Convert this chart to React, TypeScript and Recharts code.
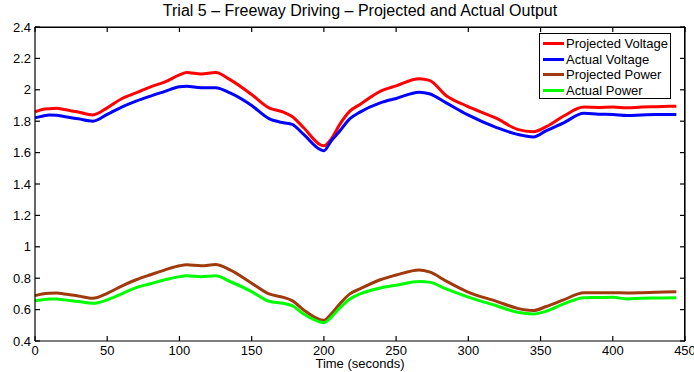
import { LineChart, Line, XAxis, YAxis, Legend, ReferenceLine } from 'recharts'

// sample times (s) and the four measured traces
const times = [
  0, 5, 10, 15, 20, 30, 40, 50, 60, 70, 80, 90, 100, 105, 115, 125, 135, 150,
  162, 172, 178, 186, 198, 200, 205, 211, 218, 225, 239, 250, 266, 273, 285,
  299, 320, 334, 345, 354, 366, 380, 390, 400, 410, 420, 430, 444,
]

const projectedVoltage = [
  1.86, 1.875, 1.88, 1.882, 1.875, 1.858, 1.84, 1.885, 1.943, 1.98, 2.019, 2.05, 2.095, 2.11, 2.1, 2.11, 2.065, 1.97,
  1.885, 1.858, 1.83, 1.758, 1.648, 1.643, 1.685, 1.78, 1.864, 1.907, 1.99, 2.025, 2.07, 2.06, 1.96,
  1.896, 1.816, 1.748, 1.733, 1.765, 1.833, 1.89, 1.888, 1.89, 1.885, 1.89, 1.892, 1.896,
]

const actualVoltage = [
  1.822, 1.832, 1.839, 1.838, 1.83, 1.815, 1.8, 1.843, 1.89, 1.928, 1.96, 1.99, 2.02, 2.023, 2.013, 2.013, 1.98, 1.9,
  1.816, 1.79, 1.78, 1.716, 1.617, 1.612, 1.674, 1.737, 1.816, 1.858, 1.917, 1.945, 1.985, 1.975, 1.915,
  1.843, 1.758, 1.716, 1.7, 1.74, 1.79, 1.85, 1.845, 1.843, 1.837, 1.84, 1.842, 1.843,
]

const projectedPower = [
  0.689, 0.7, 0.704, 0.705, 0.7, 0.687, 0.672, 0.704, 0.75, 0.79, 0.822, 0.853, 0.879, 0.885, 0.879, 0.887, 0.853, 0.768,
  0.7, 0.678, 0.657, 0.598, 0.534, 0.532, 0.572, 0.636, 0.7, 0.732, 0.79, 0.82, 0.853, 0.84, 0.78,
  0.715, 0.651, 0.608, 0.594, 0.62, 0.662, 0.708, 0.708, 0.708, 0.706, 0.708, 0.711, 0.713,
]

const actualPower = [
  0.657, 0.663, 0.668, 0.668, 0.662, 0.652, 0.64, 0.662, 0.7, 0.74, 0.765, 0.79, 0.81, 0.815, 0.81, 0.815, 0.779, 0.715,
  0.653, 0.64, 0.625, 0.572, 0.52, 0.517, 0.551, 0.611, 0.668, 0.7, 0.738, 0.755, 0.779, 0.775, 0.73,
  0.683, 0.623, 0.583, 0.572, 0.59, 0.636, 0.676, 0.677, 0.678, 0.668, 0.673, 0.674, 0.676,
]

const xTicks = [0, 50, 100, 150, 200, 250, 300, 350, 400, 450]
const yTicks = [0.4, 0.6, 0.8, 1, 1.2, 1.4, 1.6, 1.8, 2, 2.2, 2.4]

const series = [
  { key: 'pv', name: 'Projected Voltage', color: '#ff0000' },
  { key: 'av', name: 'Actual Voltage', color: '#0000ff' },
  { key: 'pp', name: 'Projected Power', color: '#a03a0c' },
  { key: 'ap', name: 'Actual Power', color: '#00ff00' },
]

const data = times.map((t, i) => ({
  t,
  pv: projectedVoltage[i],
  av: actualVoltage[i],
  pp: projectedPower[i],
  ap: actualPower[i],
}))

const W = 694
const H = 372
const margin = { top: 27, right: 9, bottom: 0, left: 0 }
const yAxisWidth = 35
const xAxisHeight = 31
const plotTop = margin.top
const plotLeft = yAxisWidth
const plotRight = W - margin.right
const plotBottom = H - xAxisHeight
const TICK = 5

const font = '"Liberation Sans", Arial, sans-serif'
const ink = '#000'

// bottom tick label, plus the matching inward tick on the top edge of the box
function XTick({ x, y, payload }: any) {
  return (
    <g>
      <line x1={x} x2={x} y1={plotTop} y2={plotTop + TICK} stroke={ink} strokeWidth={1.2} />
      <text x={x} y={y} dy="0.71em" textAnchor="middle" fontSize={13} fontFamily={font} fill={ink}>
        {payload.value}
      </text>
    </g>
  )
}

// left tick label, plus the matching inward tick on the right edge of the box
function YTick({ x, y, payload }: any) {
  return (
    <g>
      <line x1={plotRight - TICK} x2={plotRight} y1={y} y2={y} stroke={ink} strokeWidth={1.2} />
      <text x={x} y={y} dy="0.355em" textAnchor="end" fontSize={13} fontFamily={font} fill={ink}>
        {String(+Number(payload.value).toFixed(1))}
      </text>
    </g>
  )
}

function LegendBox() {
  return (
    <div style={{
      width: 132, height: 66, boxSizing: 'border-box', border: `1px solid ${ink}`,
      background: '#fff', padding: '2px 0 0 3px', fontFamily: font, fontSize: 13, color: ink,
    }}>
      {series.map(s => (
        <div key={s.key} style={{ display: 'flex', alignItems: 'center', height: 15.5, lineHeight: '15.5px' }}>
          <span style={{ display: 'inline-block', width: 21, height: 3, background: s.color, marginRight: 2 }} />
          <span>{s.name}</span>
        </div>
      ))}
    </div>
  )
}

export default function App() {
  return (
    <div style={{ position: 'absolute', left: 0, top: 0, width: W, height: H, background: '#fff', fontFamily: font }}>
      <div style={{ position: 'absolute', left: 35, top: 2, width: 650, textAlign: 'center', fontSize: 16, lineHeight: '18px', color: ink }}>
        Trial 5 – Freeway Driving – Projected and Actual Output
      </div>
      <LineChart width={W} height={H} data={data} margin={margin}>
        <XAxis
          dataKey="t" type="number" domain={[0, 450]} ticks={xTicks} interval={0}
          height={xAxisHeight} tickSize={-TICK} tickMargin={10} tick={<XTick />}
          axisLine={{ stroke: ink, strokeWidth: 1.2 }} tickLine={{ stroke: ink, strokeWidth: 1.2 }}
        />
        <YAxis
          type="number" domain={[0.4, 2.4]} ticks={yTicks} interval={0} width={yAxisWidth}
          tickSize={-TICK} tickMargin={9} tick={<YTick />}
          axisLine={{ stroke: ink, strokeWidth: 1.2 }} tickLine={{ stroke: ink, strokeWidth: 1.2 }}
        />
        <ReferenceLine y={2.4} stroke={ink} strokeWidth={1.2} ifOverflow="visible" />
        <ReferenceLine x={450} stroke={ink} strokeWidth={1.2} ifOverflow="visible" />
        <Legend
          layout="vertical" align="center" verticalAlign="middle"
          content={() => <LegendBox />}
          wrapperStyle={{ position: 'absolute', left: 539, top: 33, width: 132, height: 66 }}
        />
        {series.map(s => (
          <Line
            key={s.key} dataKey={s.key} name={s.name} type="monotone" stroke={s.color}
            strokeWidth={3} dot={false} isAnimationActive={false}
          />
        ))}
      </LineChart>
      {/* top and right edges of the axes box */}
      <div style={{
        position: 'absolute', left: plotLeft, top: plotTop, width: plotRight - plotLeft, height: plotBottom - plotTop,
        boxSizing: 'border-box', borderTop: `1px solid ${ink}`, borderRight: `1px solid ${ink}`, pointerEvents: 'none',
      }} />
      <div style={{ position: 'absolute', left: 35, top: 356, width: 650, textAlign: 'center', fontSize: 13, lineHeight: '15px', color: ink }}>
        Time (seconds)
      </div>
    </div>
  )
}
